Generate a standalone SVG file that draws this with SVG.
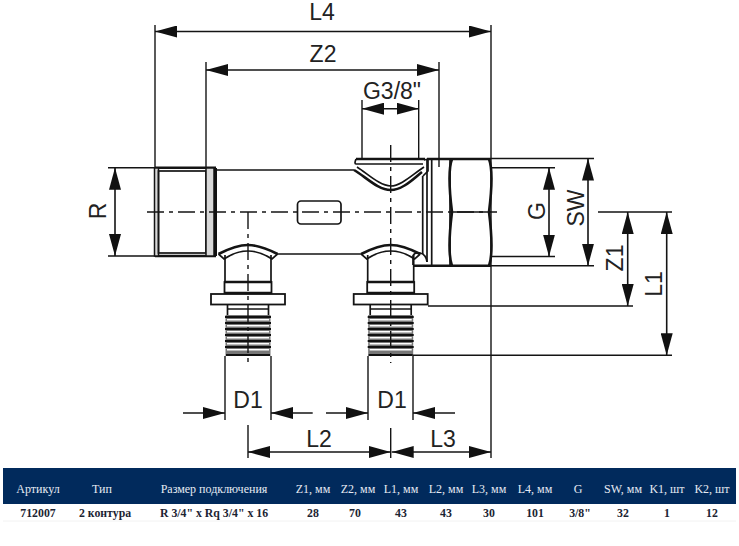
<svg xmlns="http://www.w3.org/2000/svg" width="739" height="546" viewBox="0 0 739 546">
<style>
.o{fill:none;stroke:#141414;stroke-width:1.7}
.t{fill:none;stroke:#141414;stroke-width:2.6}
.g{fill:#d8d8d8;stroke:#141414;stroke-width:1.5}
.w{fill:#fff;stroke:#141414;stroke-width:1.8}
.e{fill:none;stroke:#141414;stroke-width:1.4}
.c{fill:none;stroke:#141414;stroke-width:1.4;stroke-dasharray:17 5 4 5}
.d{fill:none;stroke:#141414;stroke-width:1.6;marker-start:url(#a);marker-end:url(#a)}
.d1{fill:none;stroke:#141414;stroke-width:1.6;marker-end:url(#a)}
.l{font-family:"Liberation Sans",Arial,sans-serif;font-size:23px;fill:#222;text-anchor:middle}
.h{font-family:"Liberation Serif","Times New Roman",serif;font-size:12px;fill:#e6ebf3;text-anchor:middle}
.v{font-family:"Liberation Serif","Times New Roman",serif;font-size:11.800px;font-weight:bold;fill:#1c2433;text-anchor:middle}
</style>
<defs>
<marker id="a" markerUnits="userSpaceOnUse" viewBox="0 0 22 12" refX="22" refY="6" markerWidth="22" markerHeight="12" orient="auto-start-reverse"><path d="M0 0L22 6L0 12Z" fill="#111"/></marker>
<g id="port">
<path class="o" d="M-23 10V37M23 10V37"/>
<path class="t" d="M-29.500 9Q-12 0 0 0T29.500 9"/>
<path class="o" d="M-29.500 9L-24 14Q-12 6 0 6T24 14L29.500 9"/>
<rect class="w" x="-23.500" y="37" width="47" height="11"/>
<path class="t" d="M-23.500 37H23.500M-23.500 48H23.500"/>
<rect class="w" x="-37" y="49" width="74" height="10.500" stroke-width="2.200"/>
<path class="o" d="M-20.500 60V70M20.500 60V70M-20.500 64H20.500"/>
<rect x="-22.500" y="70" width="45" height="41" fill="#777"/>
<path fill="#fff" d="M-21 74h42v1.500h-42zM-21 80h42v1.500h-42zM-21 86h42v1.500h-42zM-21 92h42v1.500h-42zM-21 98h42v1.500h-42zM-21 104h42v1.500h-42z"/>
<path d="M-23 71h46v2h-46zM-23 77h46v2h-46zM-23 83h46v2h-46zM-23 89h46v2h-46zM-23 95h46v2h-46zM-23 101h46v2h-46zM-22 109h44v2h-44z" fill="#111"/>
</g>
</defs>
<rect width="739" height="546" fill="#fff"/>
<g id="body">
<path class="t" d="M155 167.700H216M155 256H216"/>
<rect class="g" x="154.500" y="168" width="4" height="88"/>
<rect class="o" x="158.500" y="171" width="47.500" height="82"/>
<rect class="g" x="206" y="168" width="8" height="88"/>
<path d="M215.500 168V256" stroke="#111" stroke-width="3" fill="none"/>
<path class="o" d="M217 170H354M277 254H362"/>
<rect id="slot" class="o" x="297.500" y="201" width="43.500" height="23" rx="3.500"/>
</g>
<g id="valve">
<path class="t" d="M356 159H425"/>
<path class="o" d="M356 159Q354 164 356 164H423"/>
<path class="t" d="M354 170C366 177 378 190 390.700 190C403 190 414 178 422 172"/>
<path class="o" d="M357 167C368 174 380 186 390.700 186C401 186 412 175 424 167"/>
<path class="o" d="M424 160L428 159V171L423 176"/>
</g>
<g id="nut">
<path class="o" d="M422.700 176V254M427 159V262M431.700 159V266"/>
<path class="t" d="M427 159H491M413 265.700H491"/>
<path class="o" d="M413 265V256Q414 252 420 253Q426 254 427 262"/>
<path class="t" d="M452 159Q447 172 452 212Q447 252 452 266"/>
<path class="o" d="M450 159V266"/>
<path class="t" d="M489 159Q494 172 489 212Q494 252 489 266"/>
<path class="o" d="M452 212H491"/>
</g>
<g id="port-1"><use href="#port" x="248" y="245"/></g>
<g id="port-2"><use href="#port" x="390.700" y="245"/></g>
<g id="connectors">
<path class="c" d="M147 212H497"/>
<path class="c" d="M248 212V363"/>
<path class="c" d="M390.700 145V363"/>
<path class="e" d="M155 25V168M206 62V168M491 25V458M439 62V167M362 100V159M418.700 100V159"/>
<path class="e" d="M108 167.700H155M108 256H155"/>
<path class="e" d="M491 158.500H594M491 167.700H555M491 256.500H555M491 265.700H594M598 212H672M428 306H633M413 355.300H672"/>
<path class="e" d="M225 356V420M271 356V420M368 356V420M413 356V420M248 425V458M390.700 428V458"/>
<path class="d" d="M155 31.500H491"/>
<path class="d" d="M206 70H439"/>
<path class="d" d="M362 108.700H418.700"/>
<path class="d" d="M115 167.700V256"/>
<path class="d" d="M549 167.700V256.500"/>
<path class="d" d="M588 158.500V265.700"/>
<path class="d" d="M627.700 212V306"/>
<path class="d" d="M666.700 212V355.300"/>
<path class="d1" d="M183 413H225"/>
<path class="d1" d="M312.700 413H271"/>
<path class="d1" d="M326 413H368"/>
<path class="d1" d="M455 413H413"/>
<path class="d" d="M248 452H390.700"/>
<path class="d" d="M391.700 452H491"/>
</g>
<g id="labels">
<text class="l" x="322" y="20">L4</text>
<text class="l" x="323" y="62">Z2</text>
<text class="l" x="392" y="99">G3/8"</text>
<text class="l" x="248" y="408">D1</text>
<text class="l" x="392" y="408">D1</text>
<text class="l" x="319" y="447">L2</text>
<text class="l" x="443" y="447">L3</text>
<text class="l" transform="translate(106 211) rotate(-90)">R</text>
<text class="l" transform="translate(545 211) rotate(-90)">G</text>
<text class="l" transform="translate(584 208) rotate(-90)">SW</text>
<text class="l" transform="translate(623 258) rotate(-90)">Z1</text>
<text class="l" transform="translate(662 284) rotate(-90)">L1</text>
</g>
<g id="table">
<rect x="3" y="468" width="733" height="36" fill="#012a5c"/>
<path d="M3 521H736" stroke="#f2f2f2" fill="none"/>
<text class="h" x="38" y="493">Артикул</text>
<text class="h" x="102" y="493">Тип</text>
<text class="h" x="214" y="493">Размер подключения</text>
<text class="h" x="313" y="493">Z1, мм</text>
<text class="h" x="358" y="493">Z2, мм</text>
<text class="h" x="401" y="493">L1, мм</text>
<text class="h" x="446" y="493">L2, мм</text>
<text class="h" x="489" y="493">L3, мм</text>
<text class="h" x="535" y="493">L4, мм</text>
<text class="h" x="578" y="493">G</text>
<text class="h" x="623" y="493">SW, мм</text>
<text class="h" x="667" y="493">K1, шт</text>
<text class="h" x="712" y="493">K2, шт</text>
<text class="v" x="38" y="517">712007</text>
<text class="v" x="105" y="517">2 контура</text>
<text class="v" x="214" y="517">R 3/4" x Rq 3/4" x 16</text>
<text class="v" x="313" y="517">28</text>
<text class="v" x="355" y="517">70</text>
<text class="v" x="401" y="517">43</text>
<text class="v" x="446" y="517">43</text>
<text class="v" x="489" y="517">30</text>
<text class="v" x="535" y="517">101</text>
<text class="v" x="580" y="517">3/8"</text>
<text class="v" x="623" y="517">32</text>
<text class="v" x="667" y="517">1</text>
<text class="v" x="712" y="517">12</text>
</g>
</svg>
